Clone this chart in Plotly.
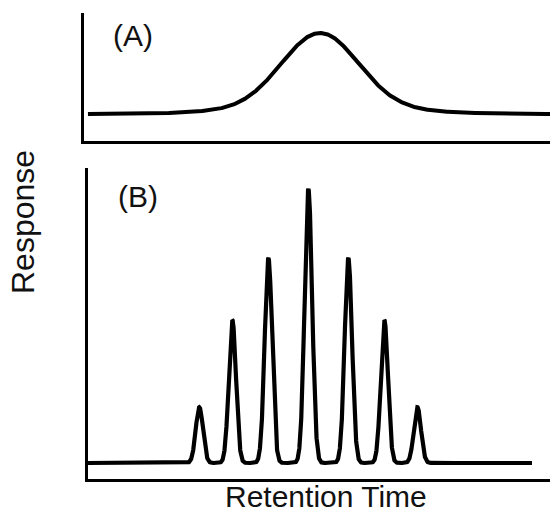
import numpy as np
import plotly.graph_objects as go

# ---- data ----
# Panel A: one broad, unresolved peak (retention time units, response units)
a_center = 10.13
a_heights = [90, 10]          # main + broad tail component
a_sigmas = [1.63, 3.2]
a_start, a_end = 0.17, 20.0

# Panel B: seven resolved peaks
b_centers = [4.82, 6.25, 7.81, 9.54, 11.27, 12.83, 14.26]
b_heights = [20.4, 52.2, 74.8, 100.0, 74.8, 52.2, 20.4]
b_sigmas = [0.155, 0.155, 0.16, 0.162, 0.16, 0.155, 0.155]
b_start, b_end = 0.0, 19.22

panel_labels = ["(A)", "(B)"]
x_title = "Retention Time"
y_title = "Response"

# ---- build curves from peak parameters ----
xa = np.linspace(a_start, a_end, 1200)
ya = np.zeros_like(xa)
for h, s in zip(a_heights, a_sigmas):
    ya += h * np.exp(-0.5 * ((xa - a_center) / s) ** 2)

xb = np.linspace(b_start, b_end, 4000)
yb = np.zeros_like(xb)
for c, h, s in zip(b_centers, b_heights, b_sigmas):
    yb += h * np.exp(-0.5 * ((xb - c) / s) ** 2)

W, H = 550, 514

fig = go.Figure()
fig.add_trace(go.Scatter(x=xa, y=ya, mode="lines", xaxis="x", yaxis="y",
                         line=dict(color="black", width=4), hoverinfo="skip"))
fig.add_trace(go.Scatter(x=xb, y=yb, mode="lines", xaxis="x2", yaxis="y2",
                         line=dict(color="black", width=4.2), hoverinfo="skip"))

axis_common = dict(showline=True, linecolor="black", linewidth=2.5,
                   showgrid=False, zeroline=False, showticklabels=False,
                   ticks="", fixedrange=True)

fig.update_layout(
    width=W, height=H,
    margin=dict(l=0, r=0, t=0, b=0),
    paper_bgcolor="white", plot_bgcolor="white",
    showlegend=False,
    xaxis=dict(domain=[84 / W, 1], range=[0, 20], anchor="y", **axis_common),
    yaxis=dict(domain=[1 - 141 / H, 1 - 12.7 / H], range=[-33.3, 125],
               anchor="x", **axis_common),
    xaxis2=dict(domain=[88 / W, 1], range=[0, 20], anchor="y2", **axis_common),
    yaxis2=dict(domain=[1 - 479 / H, 1 - 168 / H], range=[-5.84, 107.7],
                anchor="x2", **axis_common),
    font=dict(family="Liberation Sans, Arial, sans-serif", color="black"),
)

fig.add_annotation(text=x_title, x=326 / W, y=1 - 496 / H, xref="paper", yref="paper",
                   showarrow=False, xanchor="center", yanchor="middle", borderpad=0,
                   font=dict(size=30, color="#111"))
fig.add_annotation(text=y_title, x=23 / W, y=1 - 222 / H, xref="paper", yref="paper",
                   showarrow=False, xanchor="center", yanchor="middle", textangle=-90,
                   font=dict(size=32, color="#111"))
fig.add_annotation(text=panel_labels[0], x=133 / W, y=1 - 36 / H, xref="paper", yref="paper",
                   showarrow=False, xanchor="center", yanchor="middle",
                   font=dict(size=30, color="#111"))
fig.add_annotation(text=panel_labels[1], x=137.5 / W, y=1 - 197 / H, xref="paper", yref="paper",
                   showarrow=False, xanchor="center", yanchor="middle",
                   font=dict(size=30, color="#111"))

fig.write_html("out.html")
